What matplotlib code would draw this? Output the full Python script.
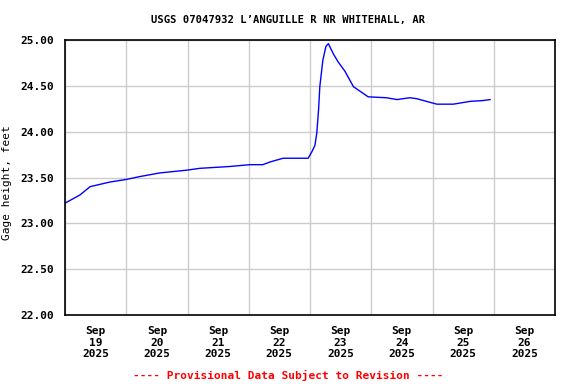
import numpy as np
import pandas as pd
import matplotlib
matplotlib.use('Agg')
import matplotlib.pyplot as plt
import matplotlib.dates as mdates

# gage height readings, time as days after 2025-09-19 00:00
days = [0.0, 0.245, 0.41, 0.73, 1.01, 1.22, 1.55, 1.99, 2.20, 2.69, 3.02, 3.23,
        3.35, 3.56, 3.97, 4.03, 4.08, 4.11, 4.14, 4.16, 4.21, 4.26, 4.30, 4.38,
        4.46, 4.57, 4.71, 4.82, 4.95, 5.25, 5.42, 5.52, 5.63, 5.74, 5.96, 6.07,
        6.34, 6.61, 6.83, 6.94]
gage_ft = [23.22, 23.31, 23.40, 23.45, 23.48, 23.51, 23.55, 23.58, 23.60, 23.62, 23.64, 23.64,
           23.67, 23.71, 23.71, 23.78, 23.85, 23.98, 24.24, 24.49, 24.78, 24.93, 24.96, 24.85,
           24.76, 24.66, 24.49, 24.44, 24.38, 24.37, 24.35, 24.36, 24.37, 24.36, 24.32, 24.30,
           24.30, 24.33, 24.34, 24.35]
yticks = [22.0, 22.5, 23.0, 23.5, 24.0, 24.5, 25.0]

start = pd.Timestamp('2025-09-19')
t = start + pd.to_timedelta(days, unit='D')

plt.rcParams['font.family'] = 'DejaVu Sans Mono'
plt.rcParams['font.weight'] = 'bold'
plt.rcParams['font.size'] = 8

fig = plt.figure(figsize=(5.76, 3.84), dpi=100)
ax = fig.add_axes([65 / 576, 69 / 384, 490 / 576, 275 / 384])

ax.plot(t, gage_ft, color='#0000ff', lw=1.0)

ax.set_xlim(start, start + pd.Timedelta(days=8))
ax.set_ylim(22, 25)
ax.set_yticks(yticks)
ax.set_yticklabels([f'{v:.2f}' for v in yticks])

# gridlines at midnight, labels at noon
ax.xaxis.set_major_locator(mdates.HourLocator(byhour=[12]))
ax.xaxis.set_major_formatter(mdates.DateFormatter('%b\n%d\n%Y'))
ax.xaxis.set_minor_locator(mdates.DayLocator())
ax.grid(True, which='minor', axis='x', color='#cccccc', lw=1)
ax.grid(True, which='major', axis='y', color='#cccccc', lw=1)
ax.tick_params(which='both', length=0)
ax.tick_params(axis='y', pad=8)
ax.tick_params(axis='x', pad=8)
for s in ax.spines.values():
    s.set_linewidth(1.2)

ax.set_ylabel('Gage height, feet')
ax.yaxis.set_label_coords((12 - 65) / 490, 0.48)
fig.text(0.5, 1 - 20 / 384, "USGS 07047932 L\u2019ANGUILLE R NR WHITEHALL, AR",
         ha='center', va='center', fontsize=7.6)
fig.text(0.5, 1 - 375 / 384, '---- Provisional Data Subject to Revision ----',
         ha='center', va='center', color='red')

fig.savefig('out.png', dpi=100)
